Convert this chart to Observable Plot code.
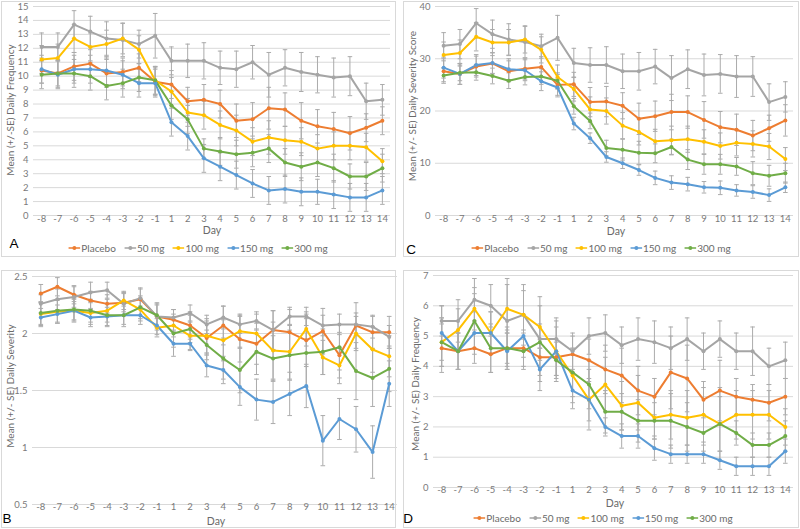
<!DOCTYPE html>
<html><head><meta charset="utf-8">
<script src="https://cdn.jsdelivr.net/npm/d3@7"></script>
<script src="https://cdn.jsdelivr.net/npm/@observablehq/plot@0.6"></script>
<style>
body{margin:0;background:#fff;}
#root{position:relative;width:800px;height:529px;overflow:hidden;font-family:Lato,"Open Sans",sans-serif;color:#6a6a6a;}
.box{position:absolute;border:1px solid #d9d9d9;box-sizing:border-box;}
.plot{position:absolute;}
.ylab{position:absolute;white-space:nowrap;font-size:10px;transform:translate(-50%,-50%) rotate(-90deg);}
.xlab{position:absolute;white-space:nowrap;font-size:10.5px;transform:translate(-50%,-50%);}
.letter{position:absolute;font-family:"Liberation Sans",Arial,sans-serif;font-size:13.5px;color:#000;transform:translate(-50%,-50%);}
.legend{position:absolute;display:flex;gap:8px;font-size:10px;transform:translate(-50%,-50%);white-space:nowrap;align-items:center;}
.legend span{display:flex;align-items:center;gap:1px;}
</style></head>
<body><div id="root"></div>
<script>
const days = [-8,-7,-6,-5,-4,-3,-2,-1,1,2,3,4,5,6,7,8,9,10,11,12,13,14];
const seriesNames = ["Placebo","50 mg","100 mg","150 mg","300 mg"];
const seriesColors = ["#ED7D31","#A5A5A5","#FFC000","#5B9BD5","#70AD47"];

// Panel A: Mean (+/-SE) Daily Frequency
const aPlacebo = [10.4,10.2,10.7,10.9,10.2,10.3,10.6,9.6,9.4,8.2,8.3,8.0,6.8,6.9,7.7,7.6,6.8,6.4,6.2,5.9,6.3,6.8];
const a50 = [12.1,12.1,13.7,13.2,12.7,12.6,12.3,12.9,11.1,11.1,11.1,10.6,10.5,11.0,10.1,10.6,10.3,10.1,9.9,10.0,8.2,8.3];
const a100 = [11.2,11.3,12.7,12.1,12.3,12.7,11.9,9.7,8.9,7.4,7.2,6.5,6.1,5.3,5.6,5.4,5.3,4.8,5.0,5.0,4.9,3.9];
const a150 = [10.5,10.1,10.5,10.5,10.4,10.1,9.5,9.5,6.7,5.7,4.1,3.5,2.9,2.3,1.8,1.9,1.7,1.7,1.5,1.3,1.3,1.8];
const a300 = [10.1,10.2,10.2,10.0,9.3,9.5,9.9,9.7,7.9,6.9,4.8,4.6,4.4,4.5,4.8,3.8,3.5,3.8,3.4,2.8,2.8,3.4];
const aPlaceboSE = [0.9,0.9,1.0,1.0,1.0,1.0,1.0,1.0,1.0,1.0,1.1,1.0,1.2,1.2,1.5,1.2,1.3,1.2,1.2,1.2,1.0,1.0];
const a50SE = [1.0,1.0,1.0,1.1,1.2,1.2,1.0,1.6,1.0,1.2,1.3,1.2,1.3,1.2,1.6,1.3,1.4,1.3,1.4,1.4,1.3,1.1];
const a100SE = [1.0,1.0,1.0,1.0,1.0,1.1,1.0,1.0,1.0,1.0,1.0,1.0,1.1,1.0,1.2,1.0,1.0,1.0,1.0,1.0,1.0,0.9];
const a150SE = [1.0,1.0,1.0,1.0,1.0,1.0,1.0,1.0,1.0,1.0,1.0,1.0,1.0,1.0,1.0,1.0,1.0,0.9,1.0,1.0,1.0,1.0];
const a300SE = [1.0,1.0,1.0,1.0,1.0,1.0,1.0,1.0,1.0,1.0,0.7,1.0,1.0,1.0,1.0,1.0,1.0,1.0,1.0,0.9,1.0,1.0];
const aTicks = [0,1,2,3,4,5,6,7,8,9,10,11,12,13,14,15];

// Panel C: Mean (+/- SE) Daily Severity Score
const cPlacebo = [27.6,27.1,28.5,29.1,27.6,28.1,28.4,25.0,25.1,21.7,21.8,21.0,18.5,19.0,19.8,19.8,18.3,16.9,16.4,15.3,16.7,18.2];
const c50 = [32.5,32.8,36.8,34.7,33.7,33.2,32.4,34.0,29.2,28.8,28.8,27.6,27.6,28.5,26.3,28.0,26.9,27.1,26.6,26.6,21.7,22.7];
const c100 = [30.7,31.1,34.2,33.1,33.1,33.7,31.7,26.5,24.2,20.3,20.0,17.2,16.0,14.2,14.4,14.6,14.1,13.3,13.9,13.7,13.2,10.8];
const c150 = [28.3,27.1,28.8,29.2,28.0,27.8,25.7,24.5,17.6,14.8,11.2,10.0,8.7,7.2,6.3,6.0,5.4,5.3,4.8,4.5,3.9,5.4];
const c300 = [26.8,27.3,27.4,26.7,25.8,26.5,26.6,25.8,20.9,18.1,12.9,12.6,12.0,11.9,13.1,10.7,9.8,9.8,9.4,8.1,7.6,8.1];
const cPlaceboSE = [2.0,2.0,2.0,2.0,2.0,2.0,2.0,2.0,2.3,2.8,2.9,2.5,3.0,2.9,3.4,3.1,3.5,3.0,3.0,2.9,2.5,3.0];
const c50SE = [2.5,2.8,2.8,2.7,3.0,3.0,2.3,4.3,2.8,3.3,3.5,3.3,3.6,3.3,4.3,3.7,4.0,3.7,4.0,3.8,3.5,2.9];
const c100SE = [2.5,2.5,2.7,2.5,2.5,2.6,2.5,2.3,2.3,2.4,2.5,2.5,2.5,2.3,2.7,2.5,2.3,2.5,2.5,2.5,2.5,2.2];
const c150SE = [2.0,2.0,2.0,2.0,2.0,2.0,1.8,1.8,1.2,1.0,1.0,1.0,1.0,1.3,1.3,1.3,1.1,1.3,1.1,1.2,1.2,1.0];
const c300SE = [1.5,1.5,1.5,1.5,1.5,1.5,1.5,1.5,1.5,1.5,1.5,2.0,2.2,1.8,1.5,1.9,1.9,1.9,1.7,2.2,2.0,1.9];
const cTicks = [0,10,20,30,40];

// Panel B: Mean (+/- SE) Daily Severity
const bPlacebo = [2.35,2.41,2.34,2.29,2.26,2.27,2.30,2.15,2.12,2.07,1.96,2.07,1.95,1.91,2.03,2.01,1.94,2.02,1.81,2.07,2.01,2.01];
const b50 = [2.26,2.30,2.32,2.36,2.38,2.26,2.31,2.15,2.14,2.18,2.08,2.14,2.08,2.11,2.03,2.15,2.15,2.07,2.08,2.08,2.06,1.97];
const b100 = [2.17,2.19,2.20,2.18,2.20,2.29,2.21,2.05,2.07,1.98,1.98,1.94,2.02,2.00,1.85,1.84,2.04,1.79,1.72,2.00,1.86,1.80];
const b150 = [2.14,2.17,2.20,2.14,2.15,2.16,2.16,2.07,1.91,1.91,1.72,1.68,1.53,1.42,1.40,1.47,1.54,1.06,1.25,1.16,0.96,1.56];
const b300 = [2.18,2.20,2.21,2.20,2.16,2.16,2.23,2.16,2.00,2.04,1.90,1.78,1.68,1.84,1.78,1.81,1.83,1.84,1.88,1.67,1.61,1.69];
const bPlaceboSE = [0.08,0.08,0.08,0.08,0.08,0.08,0.09,0.10,0.09,0.12,0.15,0.17,0.20,0.18,0.17,0.20,0.23,0.20,0.20,0.20,0.14,0.14];
const b50SE = [0.08,0.09,0.09,0.09,0.07,0.10,0.09,0.12,0.07,0.07,0.08,0.10,0.08,0.08,0.17,0.08,0.08,0.09,0.09,0.10,0.10,0.10];
const b100SE = [0.10,0.10,0.10,0.10,0.10,0.08,0.10,0.08,0.10,0.12,0.15,0.18,0.15,0.17,0.25,0.24,0.15,0.15,0.16,0.15,0.20,0.18];
const b150SE = [0.08,0.08,0.08,0.08,0.08,0.08,0.08,0.08,0.11,0.06,0.10,0.12,0.16,0.18,0.19,0.19,0.19,0.22,0.18,0.20,0.23,0.20];
const b300SE = [0.10,0.10,0.10,0.10,0.10,0.10,0.10,0.10,0.12,0.12,0.13,0.18,0.20,0.20,0.20,0.22,0.30,0.20,0.20,0.25,0.25,0.20];
const bTicks = [0.5,1,1.5,2,2.5];

// Panel D: Mean (+/- SE) Daily Frequency
const dPlacebo = [4.6,4.5,4.6,4.4,4.6,4.6,4.3,4.3,4.4,4.2,3.9,3.7,3.2,3.0,3.8,3.6,2.9,3.2,3.0,2.9,2.8,3.0];
const d50 = [5.5,5.5,6.2,6.0,5.5,5.7,4.9,4.9,4.5,5.0,5.1,4.7,4.9,4.8,4.6,4.9,4.5,4.9,4.5,4.5,4.0,4.2];
const d100 = [4.8,5.2,5.9,5.1,5.9,5.7,5.3,4.5,3.7,2.9,3.4,2.7,2.8,2.3,2.4,2.3,2.4,2.1,2.4,2.4,2.4,2.0];
const d150 = [5.1,4.5,5.1,5.1,4.5,5.0,3.9,4.5,3.2,2.9,2.0,1.7,1.7,1.3,1.1,1.1,1.1,0.9,0.7,0.7,0.7,1.2];
const d300 = [4.8,4.5,5.5,4.6,4.6,4.5,4.8,4.2,3.8,3.4,2.5,2.5,2.2,2.2,2.2,2.0,1.8,2.1,1.8,1.4,1.4,1.7];
const dPlaceboSE = [0.8,0.6,0.5,0.6,0.6,0.6,0.6,0.6,0.6,0.7,0.8,0.9,0.8,0.6,1.2,1.1,0.6,1.0,0.6,0.5,0.6,0.6];
const d50SE = [0.5,0.7,0.7,0.7,1.4,1.0,1.4,0.7,0.6,0.6,0.6,0.6,0.7,0.7,0.7,0.7,0.6,0.6,0.6,0.8,0.6,0.6];
const d100SE = [0.8,0.7,0.7,0.7,0.8,0.8,0.7,0.8,0.9,1.0,0.9,0.8,0.9,0.7,0.8,0.9,0.9,0.9,0.8,0.8,0.8,0.6];
const d150SE = [0.9,0.6,0.7,0.7,0.6,0.7,0.7,1.0,0.6,0.7,0.3,0.4,0.4,0.4,0.3,0.3,0.3,0.3,0.3,0.3,0.3,0.4];
const d300SE = [0.8,0.6,0.9,0.8,0.7,0.6,0.6,0.6,0.8,0.8,0.7,0.6,0.7,0.6,0.9,0.8,0.6,1.2,0.4,0.4,0.4,0.5];
const dTicks = [0,1,2,3,4,5,6,7];

const root = document.getElementById("root");
function add(cls, css, html){const el=document.createElement("div");el.className=cls;Object.assign(el.style,css);if(html!==undefined)el.innerHTML=html;root.appendChild(el);return el;}

function drawPanel(p){
  const rows = [];
  p.vals.forEach((arr, si) => arr.forEach((v, i) => rows.push({i, v, se: p.se[si][i], s: seriesNames[si]})));
  const fmt = p.fmt || (d => String(d));
  const chart = Plot.plot({
    width: p.w, height: p.h,
    marginLeft: p.ml, marginRight: p.mr, marginTop: p.mt, marginBottom: p.mb,
    style: {fontFamily: "Lato, 'Open Sans', sans-serif", fontSize: "9.5px", color: "#6a6a6a", background: "transparent", overflow: "visible"},
    x: {domain: [-0.5, 21.5], axis: null},
    y: {domain: p.ydom, axis: null},
    color: {domain: seriesNames, range: seriesColors},
    marks: [
      Plot.ruleY(p.ticks, {stroke: "#d9d9d9", strokeWidth: 1}),
      Plot.text(p.ticks, {y: d => d, frameAnchor: "left", dx: -5, textAnchor: "end", text: fmt, fill: "#7a7a7a"}),
      Plot.text(d3.range(days.length), {x: d => d, frameAnchor: "bottom", dy: p.xdy, text: i => String(days[i]), fill: "#7a7a7a"}),
      Plot.ruleX(rows, {x: "i", y1: d => d.v - d.se, y2: d => d.v + d.se, stroke: "#ababab", strokeWidth: 1}),
      Plot.link(rows, {x1: d => d.i - 0.14, x2: d => d.i + 0.14, y1: d => d.v + d.se, y2: d => d.v + d.se, stroke: "#ababab", strokeWidth: 1}),
      Plot.link(rows, {x1: d => d.i - 0.14, x2: d => d.i + 0.14, y1: d => d.v - d.se, y2: d => d.v - d.se, stroke: "#ababab", strokeWidth: 1}),
      Plot.line(rows, {x: "i", y: "v", z: "s", stroke: "s", strokeWidth: 2, curve: "linear"}),
      Plot.dot(rows, {x: "i", y: "v", fill: "s", r: 2})
    ]
  });
  const holder = add("plot", {left: p.left + "px", top: p.top + "px"});
  holder.appendChild(chart);
}

function legend(cx, cy){
  const html = seriesNames.map((n, k) =>
    `<span><svg width="12" height="6"><line x1="0" x2="12" y1="3" y2="3" stroke="${seriesColors[k]}" stroke-width="1.5"/><circle cx="6" cy="3" r="2" fill="${seriesColors[k]}"/></svg>${n}</span>`).join("");
  add("legend", {left: cx + "px", top: cy + "px"}, html);
}

// panel borders
add("box", {left: "1px", top: "1px", width: "395px", height: "256px"});
add("box", {left: "403px", top: "1px", width: "396px", height: "256px"});
add("box", {left: "1px", top: "270px", width: "395px", height: "258px"});
add("box", {left: "403px", top: "270px", width: "396px", height: "258px"});

// A
drawPanel({left: 0, top: 0, w: 395, h: 257, ml: 33, mr: 5, mt: 6, mb: 42, ydom: [0, 15], ticks: aTicks, xdy: 6,
  vals: [aPlacebo, a50, a100, a150, a300], se: [aPlaceboSE, a50SE, a100SE, a150SE, a300SE]});
add("ylab", {left: "10px", top: "110px"}, "Mean (+/-SE) Daily Frequency");
add("xlab", {left: "212px", top: "230px"}, "Day");
add("letter", {left: "14px", top: "243px"}, "A");
legend(198, 248);

// C
drawPanel({left: 403, top: 0, w: 397, h: 257, ml: 32, mr: 7, mt: 6, mb: 42, ydom: [0, 40], ticks: cTicks, xdy: 6,
  vals: [cPlacebo, c50, c100, c150, c300], se: [cPlaceboSE, c50SE, c100SE, c150SE, c300SE]});
add("ylab", {left: "412px", top: "106px"}, "Mean (+/- SE) Daily Severity Score");
add("xlab", {left: "616px", top: "231px"}, "Day");
add("letter", {left: "411px", top: "249px"}, "C");
legend(601, 248);

// B
drawPanel({left: 0, top: 270, w: 400, h: 259, ml: 32, mr: 3, mt: 6, mb: 25, ydom: [0.5, 2.5], ticks: bTicks, xdy: 5,
  vals: [bPlacebo, b50, b100, b150, b300], se: [bPlaceboSE, b50SE, b100SE, b150SE, b300SE]});
add("ylab", {left: "10px", top: "386px"}, "Mean (+/- SE) Daily Severity");
add("xlab", {left: "216px", top: "521px"}, "Day");
add("letter", {left: "7px", top: "518px"}, "B");

// D
drawPanel({left: 403, top: 270, w: 397, h: 259, ml: 30, mr: 7, mt: 5, mb: 42, ydom: [0, 7], ticks: dTicks, xdy: 5,
  vals: [dPlacebo, d50, d100, d150, d300], se: [dPlaceboSE, d50SE, d100SE, d150SE, d300SE]});
add("ylab", {left: "415px", top: "384px"}, "Mean (+/- SE) Daily Frequency");
add("xlab", {left: "615px", top: "503px"}, "Day");
add("letter", {left: "408px", top: "518px"}, "D");
legend(603, 518);
</script></body></html>
